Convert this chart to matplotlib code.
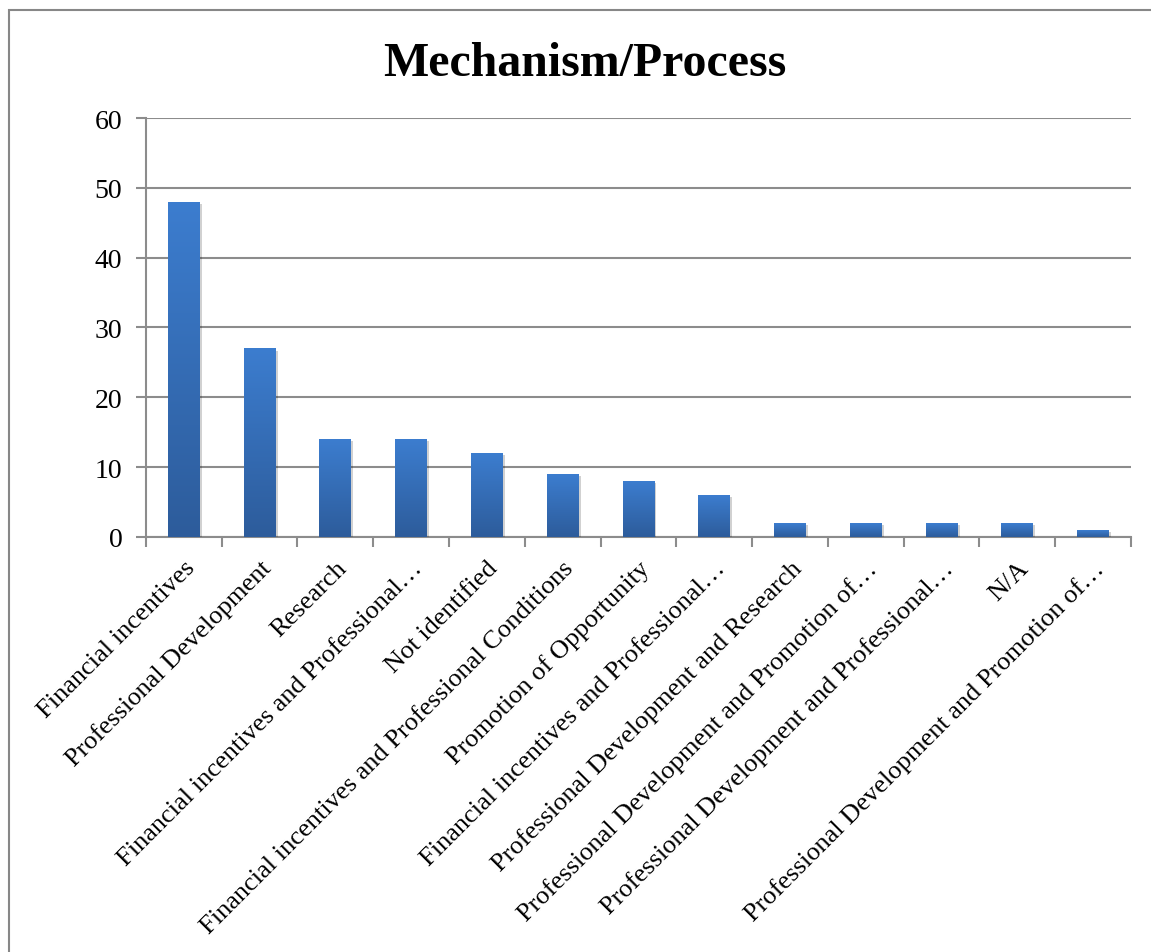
import numpy as np
import matplotlib.pyplot as plt
import matplotlib.patheffects as pe
from matplotlib.colors import LinearSegmentedColormap
from matplotlib.patches import Rectangle

plt.rcParams['font.family'] = ['Liberation Serif', 'DejaVu Serif']

categories = [
    "Financial incentives",
    "Professional Development",
    "Research",
    "Financial incentives and Professional\u2026",
    "Not identified",
    "Financial incentives and Professional Conditions",
    "Promotion of Opportunity",
    "Financial incentives and Professional\u2026",
    "Professional Development and Research",
    "Professional Development and Promotion of\u2026",
    "Professional Development and Professional\u2026",
    "N/A",
    "Professional Development and Promotion of\u2026",
]
counts = [48, 27, 14, 14, 12, 9, 8, 6, 2, 2, 2, 2, 1]

grid_gray = '#8c8c8c'
bar_cmap = LinearSegmentedColormap.from_list('bar', ['#2d5c9b', '#3c7dcf'])

fig = plt.figure(figsize=(11.51, 9.53), dpi=100)
ax = fig.add_axes([0.1268, 0.4355, 0.8558, 0.4396])

# outer chart frame (left and top edges visible)
fig.patches.append(Rectangle((9 / 1151, -0.5), 1.5, 1.5 - 11 / 953,
                             transform=fig.transFigure, fill=False,
                             edgecolor='#878787', linewidth=1.5))

x = np.arange(len(categories))
bars = ax.bar(x, counts, width=0.42, color='#3470bb', zorder=3,
              path_effects=[pe.SimplePatchShadow(offset=(1.5, -1.5), alpha=0.18,
                                                 shadow_rgbFace='#000000'),
                            pe.Normal()])

# vertical gradient fill, lighter at the top
grad = np.linspace(0, 1, 256).reshape(-1, 1)
for b in bars:
    bx, by = b.get_x(), b.get_y()
    bw, bh = b.get_width(), b.get_height()
    im = ax.imshow(grad, cmap=bar_cmap, aspect='auto', origin='lower',
                   extent=(bx, bx + bw, by, by + bh), zorder=4)
    im.set_clip_path(b)

ax.set_xlim(-0.5, len(categories) - 0.5)
ax.set_ylim(0, 60)
ax.set_yticks(range(0, 61, 10))
ax.yaxis.grid(True, color=grid_gray, linewidth=1.5, zorder=0)
ax.set_axisbelow(True)

ax.set_xticks(x)
ax.set_xticklabels(categories, rotation=45, ha='right', rotation_mode='anchor',
                   fontsize=19)
ax.set_xticks(np.arange(-0.5, len(categories), 1.0), minor=True)
ax.tick_params(axis='x', which='major', length=0, pad=14)
ax.tick_params(axis='x', which='minor', length=7, width=1.5, color=grid_gray)
ax.tick_params(axis='y', length=7, width=1.5, color=grid_gray, labelsize=20, pad=10)

for side in ('top', 'right'):
    ax.spines[side].set_visible(False)
for side in ('left', 'bottom'):
    ax.spines[side].set_color(grid_gray)
    ax.spines[side].set_linewidth(1.5)

fig.text(0.508, 0.933, "Mechanism/Process", ha='center', va='center',
         fontsize=34.5, fontweight='bold')

fig.savefig('out.png', dpi=100)
